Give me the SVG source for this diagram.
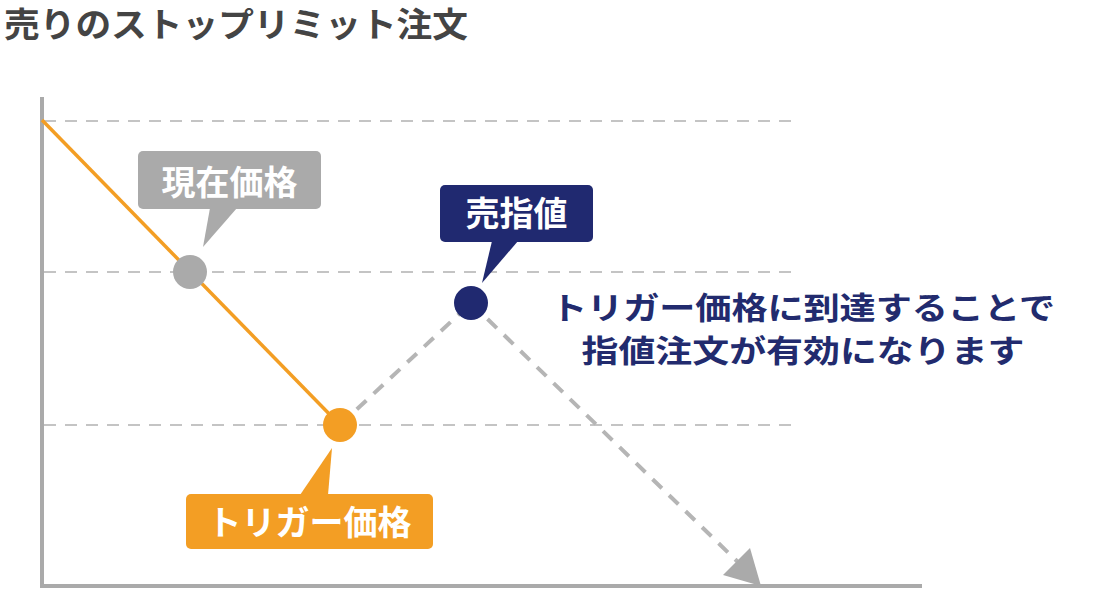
<svg xmlns="http://www.w3.org/2000/svg" width="1100" height="591" viewBox="0 0 1100 591">
<style>
.t{font-family:"Noto Sans CJK JP","Noto Sans",sans-serif;font-weight:bold}
.lbl{fill:#fff;font-size:34px;text-anchor:middle}
.grid{stroke:#c4c4c4;stroke-width:2;stroke-dasharray:12 9;fill:none}
.axis{stroke:#aaaaaa;stroke-width:4;fill:none}
.path{stroke:#b5b5b5;stroke-width:4;stroke-dasharray:13 10;fill:none}
</style>
<rect width="1100" height="591" fill="#fff"/>
<text class="t" x="4" y="37" font-size="34" fill="#444444" textLength="464" lengthAdjust="spacingAndGlyphs">売りのストップリミット注文</text>
<g id="grid">
<line class="grid" x1="44" y1="121" x2="795" y2="121"/>
<line class="grid" x1="44" y1="272" x2="795" y2="272"/>
<line class="grid" x1="44" y1="425" x2="795" y2="425"/>
</g>
<g id="axes">
<line class="axis" x1="42" y1="97" x2="42" y2="588"/>
<line class="axis" x1="40" y1="586" x2="922" y2="586"/>
</g>
<g id="connectors">
<line x1="42" y1="120" x2="340" y2="425" stroke="#f39e24" stroke-width="3.5"/>
<line class="path" x1="340" y1="425" x2="471" y2="303"/>
<line class="path" x1="471" y1="303" x2="742" y2="566"/>
<polygon points="750,548 723,575 761,586" fill="#aaaaaa"/>
</g>
<g id="current">
<circle cx="190" cy="272" r="17" fill="#aaaaaa"/>
<rect x="138" y="151" width="183" height="58" rx="5" fill="#aaaaaa"/>
<polygon points="210,208 237,208 203,247" fill="#aaaaaa"/>
<text class="t lbl" x="229.5" y="195">現在価格</text>
</g>
<g id="limit">
<circle cx="471" cy="303" r="17" fill="#202970"/>
<rect x="440" y="185" width="153" height="57" rx="5" fill="#202970"/>
<polygon points="492,241 518,241 482,283" fill="#202970"/>
<text class="t lbl" x="516.5" y="226">売指値</text>
</g>
<g id="trigger">
<circle cx="340" cy="425" r="17" fill="#f39e24"/>
<rect x="186" y="494" width="247" height="55" rx="5" fill="#f39e24"/>
<polygon points="300,495 328,495 332,448" fill="#f39e24"/>
<text class="t lbl" x="309.5" y="535">トリガー価格</text>
</g>
<g id="note">
<text class="t" x="803" y="319" font-size="31" fill="#222b6e" text-anchor="middle" textLength="504" lengthAdjust="spacingAndGlyphs">トリガー価格に到達することで</text>
<text class="t" x="803" y="362" font-size="31" fill="#222b6e" text-anchor="middle" textLength="443" lengthAdjust="spacingAndGlyphs">指値注文が有効になります</text>
</g>
</svg>
